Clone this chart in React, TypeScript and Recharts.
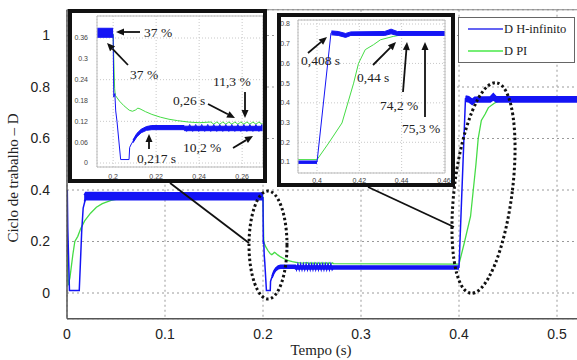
import { ComposedChart, Line, Area, XAxis, YAxis, CartesianGrid, ReferenceLine } from 'recharts'

// D H-infinito: [tempo (s), ciclo de trabalho]
const hinfPoints: [number, number][] = [
  [0, 0.15], [0.0003, 0.4], [0.0008, 0.25], [0.0025, 0.01], [0.0125, 0.01], [0.0135, 0.1],
  [0.015, 0.24], [0.0165, 0.33], [0.0185, 0.36], [0.02, 0.37], [0.2, 0.37],
  [0.2003, 0.19], [0.2008, 0.2], [0.2012, 0.15], [0.2018, 0.12], [0.2035, 0.01], [0.2074, 0.01],
  [0.2077, 0.045], [0.2085, 0.055], [0.209, 0.06], [0.2105, 0.075], [0.2125, 0.088], [0.215, 0.096],
  [0.2175, 0.1], [0.2335, 0.1],
  [0.2342, 0.091], [0.2356, 0.111], [0.237, 0.091], [0.2384, 0.111], [0.2398, 0.091], [0.2412, 0.111],
  [0.2426, 0.091], [0.244, 0.111], [0.2454, 0.091], [0.2468, 0.111], [0.2482, 0.091], [0.2496, 0.111],
  [0.251, 0.091], [0.2524, 0.111], [0.2538, 0.091], [0.2552, 0.111], [0.2566, 0.091], [0.258, 0.111],
  [0.2594, 0.091], [0.2608, 0.111], [0.2622, 0.091], [0.2636, 0.111], [0.265, 0.091], [0.2664, 0.111],
  [0.2678, 0.091], [0.2692, 0.111], [0.2706, 0.091], [0.272, 0.1],
  [0.4, 0.1], [0.4066, 0.755], [0.408, 0.76], [0.41, 0.752], [0.4135, 0.742],
  [0.415, 0.75], [0.42, 0.752], [0.43, 0.752], [0.435, 0.762], [0.438, 0.752], [0.46, 0.75], [0.55, 0.75],
]

// switching ripple of D H-infinito: [tempo, min, max], null = gap
const hinfRipple: [number, number | null, number | null][] = [
  [0.0175, 0.355, 0.38], [0.019, 0.362, 0.39], [0.2, 0.362, 0.388], [0.2001, null, null],
  [0.2092, 0.058, 0.066], [0.211, 0.075, 0.085], [0.213, 0.087, 0.097], [0.2155, 0.094, 0.105],
  [0.218, 0.096, 0.108], [0.233, 0.096, 0.108], [0.2332, 0.093, 0.106], [0.4, 0.093, 0.105], [0.4001, null, null],
  [0.4068, 0.745, 0.765], [0.41, 0.742, 0.762], [0.4135, 0.732, 0.752], [0.416, 0.742, 0.76],
  [0.432, 0.742, 0.762], [0.435, 0.75, 0.774], [0.438, 0.742, 0.762], [0.55, 0.742, 0.762],
]

// D PI: [tempo (s), ciclo de trabalho]
const piPoints: [number, number][] = [
  [0, 0.2], [0.0012, 0.03], [0.003, 0.06], [0.006, 0.15], [0.008, 0.2], [0.011, 0.22], [0.014, 0.25],
  [0.018, 0.28], [0.024, 0.31], [0.03, 0.333], [0.036, 0.347], [0.045, 0.36], [0.055, 0.368], [0.07, 0.372],
  [0.2, 0.372], [0.2003, 0.3], [0.2007, 0.215], [0.201, 0.195], [0.203, 0.178], [0.205, 0.165],
  [0.2075, 0.152], [0.209, 0.149], [0.2105, 0.153], [0.2115, 0.158], [0.2125, 0.156], [0.215, 0.148],
  [0.218, 0.14], [0.222, 0.132], [0.226, 0.126], [0.23, 0.122], [0.235, 0.118], [0.24, 0.116],
  [0.2454, 0.118], [0.2468, 0.112], [0.2482, 0.118], [0.2496, 0.112], [0.251, 0.118], [0.2524, 0.112],
  [0.2538, 0.118], [0.2552, 0.112], [0.2566, 0.118], [0.258, 0.112], [0.2594, 0.118], [0.2608, 0.112],
  [0.2622, 0.118], [0.2636, 0.112], [0.265, 0.118], [0.2664, 0.112], [0.2678, 0.118], [0.2692, 0.112],
  [0.2706, 0.117], [0.272, 0.114],
  [0.4, 0.112], [0.4055, 0.196], [0.4118, 0.298],
  [0.4173, 0.5], [0.4196, 0.6], [0.4228, 0.67], [0.4267, 0.695], [0.43, 0.72], [0.436, 0.737],
  [0.44, 0.745], [0.445, 0.75], [0.55, 0.752],
]

const mainTimeTicks = [0, 0.1, 0.2, 0.3, 0.4, 0.5]
const mainDutyTicks = [0, 0.2, 0.4, 0.6, 0.8, 1]
const zoom1TimeTicks = [0.2, 0.22, 0.24, 0.26]
const zoom1DutyTicks = [0, 0.06, 0.12, 0.18, 0.24, 0.3, 0.36]
const zoom2TimeTicks = [0.4, 0.42, 0.44, 0.46]
const zoom2DutyTicks = [0.1, 0.2, 0.3, 0.4, 0.5, 0.6, 0.7, 0.8]

const hinfData = hinfPoints.map(([t, d]) => ({ t, d }))
const rippleData = hinfRipple.map(([t, lo, hi]) => ({ t, band: lo == null ? null : [lo, hi] }))
const piData = piPoints.map(([t, d]) => ({ t, d }))

const BLUE = '#1414f5'
const GREEN = '#45dc45'
const SERIF = '"Liberation Serif", "Times New Roman", serif'
const SANS = '"Liberation Sans", Arial, sans-serif'

function renderSeries(band: number, line: number, pi: number) {
  return [
    <Line key="pi" data={piData} dataKey="d" type="linear" stroke={GREEN} strokeWidth={pi} dot={false}
      activeDot={false} isAnimationActive={false} zIndex={300} />,
    <Area key="band" data={rippleData} dataKey="band" type="linear" stroke={BLUE} strokeWidth={band}
      fill={BLUE} fillOpacity={1} dot={false} activeDot={false} connectNulls={false}
      isAnimationActive={false} zIndex={310} />,
    <Line key="hinf" data={hinfData} dataKey="d" type="linear" stroke={BLUE} strokeWidth={line} dot={false}
      activeDot={false} isAnimationActive={false} zIndex={320} />,
  ]
}

function Arrow({ x1, y1, x2, y2 }: { x1: number; y1: number; x2: number; y2: number }) {
  const a = Math.atan2(y2 - y1, x2 - x1)
  const len = 8, half = 3.5
  const bx = x2 - len * Math.cos(a), by = y2 - len * Math.sin(a)
  const p1 = `${bx - half * Math.sin(a)},${by + half * Math.cos(a)}`
  const p2 = `${bx + half * Math.sin(a)},${by - half * Math.cos(a)}`
  return (
    <g>
      <line x1={x1} y1={y1} x2={bx} y2={by} stroke="#111" strokeWidth={1.8} />
      <polygon points={`${x2},${y2} ${p1} ${p2}`} fill="#111" />
    </g>
  )
}

function Note({ x, y, children }: { x: number; y: number; children: string }) {
  return <text x={x} y={y + 4.7} fontFamily={SERIF} fontSize={13.5} fill="#222">{children}</text>
}

const insetTick = { fontFamily: SANS, fontSize: 7, fill: '#444' }

export default function App() {
  return (
    <div style={{ position: 'absolute', left: 0, top: 0, width: 577, height: 360, overflow: 'hidden', background: '#fff' }}>
      <div style={{ position: 'absolute', left: 0, top: 0 }}>
        <ComposedChart width={620} height={360} margin={{ top: 9.75, right: 14, bottom: 11.25, left: 7 }}>
          <CartesianGrid stroke="#9a9a9a" strokeDasharray="2 3" />
          <XAxis type="number" dataKey="t" domain={[0, 0.55]} ticks={mainTimeTicks} allowDataOverflow height={30}
            tickLine={false} tickSize={0} tickMargin={10} axisLine={{ stroke: '#555', strokeWidth: 1.5 }}
            tick={{ fontFamily: SANS, fontSize: 14, fill: '#222' }} />
          <YAxis type="number" domain={[-0.1, 1.1]} ticks={mainDutyTicks} allowDataOverflow width={60}
            tickLine={false} tickSize={0} tickMargin={17} axisLine={{ stroke: '#555', strokeWidth: 1.5 }}
            tick={{ fontFamily: SANS, fontSize: 14, fill: '#222' }} />
          <ReferenceLine y={1.1} stroke="#888" ifOverflow="visible" />
          {renderSeries(1.5, 1.5, 1.3)}
        </ComposedChart>
      </div>

      <svg width={577} height={360} style={{ position: 'absolute', left: 0, top: 0 }}>
        <text x={321} y={355} textAnchor="middle" fontFamily={SERIF} fontSize={15} fill="#222">Tempo (s)</text>
        <text x={18} y={178} textAnchor="middle" fontFamily={SERIF} fontSize={15} fill="#222"
          transform="rotate(-90 18 178)">Ciclo de trabalho – D</text>
      </svg>

      {/* legenda */}
      <div style={{ position: 'absolute', left: 458, top: 17, width: 117, height: 46, boxSizing: 'border-box',
        border: '1.5px solid #666', background: '#fff' }}>
        <svg width={117} height={46} style={{ position: 'absolute', left: -1.5, top: -1.5 }}>
          <line x1={10} x2={45} y1={12} y2={12} stroke="#3030ee" strokeWidth={1.6} />
          <line x1={10} x2={45} y1={34} y2={34} stroke="#48e848" strokeWidth={1.6} />
          <text x={46} y={16} fontFamily={SERIF} fontSize={12.5} fill="#222">D H-infinito</text>
          <text x={46} y={38} fontFamily={SERIF} fontSize={12.5} fill="#222">D PI</text>
        </svg>
      </div>

      {/* zoom em 0.2 s */}
      <div style={{ position: 'absolute', left: 68, top: 9, width: 199, height: 174, boxSizing: 'border-box',
        border: '4px solid #111', background: '#fff' }}>
        <ComposedChart width={191} height={166} margin={{ top: 3, right: 0, bottom: 0, left: 0 }}>
          <CartesianGrid stroke="#c8c8c8" strokeDasharray="1 2" />
          <XAxis type="number" dataKey="t" domain={[0.1925, 0.2697]} ticks={zoom1TimeTicks} allowDataOverflow
            height={12} tickLine={false} tickSize={0} tickMargin={7.5} axisLine={{ stroke: '#bbb' }} tick={insetTick} />
          <YAxis type="number" domain={[-0.0115, 0.4234]} ticks={zoom1DutyTicks} allowDataOverflow width={25}
            tickLine={false} tickSize={0} tickMargin={9} axisLine={{ stroke: '#bbb' }} tick={insetTick} />
          <ReferenceLine y={0.4234} stroke="#bbb" ifOverflow="visible" />
          <ReferenceLine x={0.2697} stroke="#bbb" ifOverflow="visible" />
          {renderSeries(1, 1, 1)}
        </ComposedChart>
      </div>

      {/* zoom em 0.4 s */}
      <div style={{ position: 'absolute', left: 277, top: 13, width: 178, height: 174, boxSizing: 'border-box',
        border: '4px solid #111', background: '#fff' }}>
        <ComposedChart width={170} height={166} margin={{ top: 3, right: 6, bottom: 0, left: 0 }}>
          <CartesianGrid stroke="#c8c8c8" strokeDasharray="1 2" />
          <XAxis type="number" dataKey="t" domain={[0.391, 0.4605]} ticks={zoom2TimeTicks} allowDataOverflow
            height={10} tickLine={false} tickSize={0} tickMargin={5.5} axisLine={{ stroke: '#bbb' }} tick={insetTick} />
          <YAxis type="number" domain={[0.0442, 0.8203]} ticks={zoom2DutyTicks} allowDataOverflow width={17}
            tickLine={false} tickSize={0} tickMargin={8} axisLine={{ stroke: '#bbb' }} tick={insetTick} />
          <ReferenceLine y={0.8203} stroke="#bbb" ifOverflow="visible" />
          <ReferenceLine x={0.4605} stroke="#bbb" ifOverflow="visible" />
          {renderSeries(1, 1, 1)}
        </ComposedChart>
      </div>

      {/* anotações */}
      <svg width={577} height={360} style={{ position: 'absolute', left: 0, top: 0, pointerEvents: 'none' }}>
        <line x1={170} y1={183} x2={249} y2={243} stroke="#111" strokeWidth={1.8} />
        <line x1={368} y1={187} x2={454} y2={227} stroke="#111" strokeWidth={1.8} />
        <ellipse cx={268} cy={245} rx={19} ry={54} fill="none" stroke="#111" strokeWidth={3} strokeDasharray="2.5 2.5" />
        <ellipse cx={483.5} cy={188} rx={29} ry={106} fill="none" stroke="#111" strokeWidth={3} strokeDasharray="2.5 2.5"
          transform="rotate(7 483.5 188)" />

        <Arrow x1={140} y1={32} x2={116} y2={32} />
        <Note x={144} y={32}>37 %</Note>
        <Arrow x1={128} y1={65} x2={107} y2={43} />
        <Note x={130} y={74}>37 %</Note>
        <Arrow x1={245} y1={92} x2={245} y2={118} />
        <Note x={213} y={81}>11,3 %</Note>
        <Arrow x1={208} y1={104} x2={235} y2={118} />
        <Note x={173} y={100}>0,26 s</Note>
        <Arrow x1={149} y1={149} x2={149} y2={134} />
        <Note x={137} y={158}>0,217 s</Note>
        <Arrow x1={233} y1={148} x2={253} y2={136} />
        <Note x={183} y={147}>10,2 %</Note>

        <Arrow x1={308} y1={53} x2={327} y2={37} />
        <Note x={301} y={60}>0,408 s</Note>
        <Arrow x1={373} y1={65} x2={396} y2={42} />
        <Note x={357} y={77}>0,44 s</Note>
        <Arrow x1={403} y1={92} x2={407} y2={42} />
        <Note x={380} y={105}>74,2 %</Note>
        <Arrow x1={425} y1={117} x2={425} y2={42} />
        <Note x={402} y={128}>75,3 %</Note>
      </svg>
    </div>
  )
}
